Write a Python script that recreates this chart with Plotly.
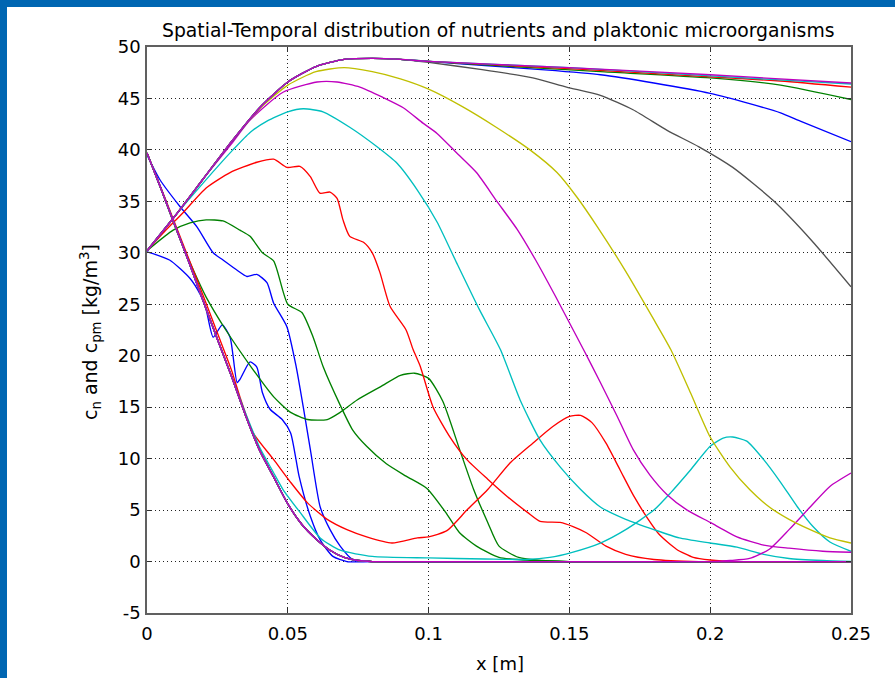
import plotly.graph_objects as go

# ---------------- data ----------------
# common rising part of the late "A" curves (start at 30 at x=0)
rise_x = [0, 0.01, 0.02, 0.03, 0.04, 0.05, 0.06, 0.07, 0.08, 0.09, 0.1]
rise_y = [30.2, 33.6, 37.2, 40.8, 44.1, 46.6, 48.1, 48.8, 48.9, 48.8, 48.6]

# common falling part of the late "B" curves (start at ~40 at x=0)
fall_x = [0, 0.005, 0.01, 0.015, 0.02, 0.025, 0.03, 0.035, 0.04, 0.045, 0.05,
          0.055, 0.06, 0.065, 0.07, 0.075, 0.08, 0.25]
fall_y = [39.7, 36.2, 32.6, 29.0, 25.3, 21.6, 18.0, 14.2, 10.8, 8.2, 5.6,
          3.6, 2.2, 1.1, 0.4, 0.1, 0.0, 0.0]

# time 1 (blue)
blue1_a_x = [0, 0.008, 0.0153, 0.019, 0.021, 0.0235, 0.0267, 0.0295, 0.032, 0.033,
             0.0366, 0.039, 0.041, 0.0437, 0.048, 0.051, 0.054, 0.058, 0.0615,
             0.066, 0.071, 0.08, 0.25]
blue1_a_y = [30.1, 29.3, 27.5, 25.9, 24.5, 21.8, 23.0, 21.8, 17.4, 17.7,
             19.4, 18.9, 16.4, 14.8, 13.8, 12.5, 8.3, 4.4, 2.1,
             0.5, 0.0, 0.0, 0.0]
blue1_b_x = [0, 0.0046, 0.0117, 0.0178, 0.0235, 0.027, 0.032, 0.0355, 0.039, 0.0426,
             0.045, 0.0497, 0.053, 0.0555, 0.058, 0.0615, 0.065, 0.0686, 0.073, 0.08, 0.25]
blue1_b_y = [39.5, 37.1, 34.5, 32.5, 30.0, 29.3, 28.3, 27.7, 27.9, 27.1,
             25.1, 22.8, 18.9, 15.0, 10.9, 5.3, 3.1, 1.5, 0.2, 0.0, 0.0]

# time 2 (green)
green1_a_x = [0, 0.0093, 0.0153, 0.021, 0.027, 0.033, 0.0366, 0.041, 0.045, 0.05,
              0.055, 0.059, 0.0626, 0.0686, 0.073, 0.078, 0.085, 0.092, 0.0994,
              0.106, 0.111, 0.117, 0.125, 0.137, 0.15, 0.25]
green1_a_y = [30.2, 32.2, 32.9, 33.2, 33.1, 32.2, 31.6, 30.0, 29.2, 25.0,
              24.2, 21.8, 18.9, 15.2, 12.8, 11.2, 9.5, 8.3, 7.1,
              4.8, 2.8, 1.5, 0.4, 0.1, 0.0, 0.0]
green1_b_x = [0, 0.005, 0.01, 0.0165, 0.021, 0.028, 0.037, 0.045, 0.051, 0.057,
              0.064, 0.0686, 0.0746, 0.083, 0.09, 0.095, 0.1, 0.105, 0.111, 0.116,
              0.121, 0.125, 0.132, 0.14, 0.15, 0.25]
green1_b_y = [39.7, 36.2, 32.5, 28.3, 25.7, 22.5, 18.9, 16.0, 14.5, 13.8,
              13.8, 14.5, 15.7, 17.0, 18.1, 18.3, 17.8, 15.6, 10.9, 7.0,
              3.8, 1.5, 0.4, 0.1, 0.0, 0.0]

# time 3 (red)
red1_a_x = [0, 0.006, 0.0128, 0.021, 0.0295, 0.039, 0.045, 0.0497, 0.0543, 0.058,
            0.0614, 0.065, 0.0675, 0.0696, 0.072, 0.077, 0.08, 0.0827, 0.0863,
            0.092, 0.0945, 0.097, 0.1016, 0.1076, 0.1136, 0.121, 0.128, 0.135,
            0.1396, 0.1467, 0.1513, 0.156, 0.163, 0.17, 0.18, 0.196, 0.25]
red1_a_y = [30.2, 32.0, 33.9, 36.3, 37.8, 38.8, 39.1, 38.3, 38.4, 37.4,
            35.8, 35.9, 35.3, 33.2, 31.6, 31.0, 30.0, 28.1, 24.8,
            22.5, 20.6, 19.0, 15.0, 12.1, 9.9, 8.0, 6.3, 4.8,
            3.9, 3.8, 3.4, 2.8, 1.5, 0.7, 0.2, 0.0, 0.0]
red1_b_x = [0, 0.005, 0.01, 0.015, 0.02, 0.025, 0.03, 0.033, 0.0377, 0.045, 0.051,
            0.057, 0.064, 0.071, 0.078, 0.087, 0.096, 0.1, 0.1065, 0.1136, 0.121,
            0.129, 0.137, 0.144, 0.15, 0.154, 0.158, 0.163, 0.168, 0.173, 0.178,
            0.182, 0.188, 0.194, 0.2, 0.21, 0.25]
red1_b_y = [39.7, 36.3, 32.8, 29.3, 25.8, 22.2, 18.6, 16.0, 12.5, 9.9, 7.7,
            5.7, 4.1, 3.1, 2.4, 1.8, 2.3, 2.4, 3.0, 5.0, 7.0,
            9.6, 11.5, 13.1, 14.1, 14.2, 13.5, 11.5, 8.9, 6.3, 4.1,
            2.6, 1.2, 0.4, 0.15, 0.0, 0.0]

# time 4 (cyan)
cyan1_a_x = [0, 0.01, 0.02, 0.0305, 0.0366, 0.0426, 0.05, 0.0555, 0.0625, 0.072,
             0.0817, 0.0888, 0.096, 0.103, 0.11, 0.118, 0.1255, 0.1325, 0.1396,
             0.1467, 0.154, 0.161, 0.17, 0.18, 0.189, 0.2, 0.2095, 0.219, 0.228,
             0.24, 0.25]
cyan1_a_y = [30.2, 33.6, 36.8, 40.0, 41.7, 42.8, 43.7, 44.0, 43.7, 42.2,
             40.3, 38.7, 36.1, 33.0, 29.0, 24.5, 20.6, 15.7, 11.8,
             9.2, 7.0, 5.3, 4.1, 3.1, 2.3, 1.8, 1.4, 0.7, 0.3,
             0.1, 0.0]
cyan1_b_x = [0, 0.005, 0.01, 0.015, 0.02, 0.025, 0.03, 0.035, 0.04, 0.045, 0.0483,
             0.0543, 0.0615, 0.0686, 0.08, 0.1, 0.12, 0.135, 0.143, 0.151, 0.161,
             0.17, 0.18, 0.186, 0.193, 0.2, 0.2046, 0.208, 0.213, 0.219, 0.225,
             0.231, 0.2365, 0.2425, 0.25]
cyan1_b_y = [39.7, 36.2, 32.6, 29.0, 25.3, 21.6, 18.0, 14.4, 11.1, 8.6, 7.0,
             4.8, 2.3, 1.1, 0.5, 0.35, 0.25, 0.2, 0.4, 0.9, 1.8,
             3.1, 5.0, 6.7, 8.9, 11.2, 12.0, 12.1, 11.7, 9.9, 7.7,
             5.3, 3.4, 1.9, 1.0]

# time 5 (magenta)
mag1_a_x = [0, 0.01, 0.02, 0.03, 0.0366, 0.0483, 0.0604, 0.0675, 0.0756, 0.0838,
            0.091, 0.098, 0.103, 0.11, 0.117, 0.124, 0.1314, 0.138, 0.145, 0.155,
            0.161, 0.167, 0.1726, 0.1786, 0.1847, 0.1918, 0.2, 0.2095, 0.219,
            0.228, 0.24, 0.25]
mag1_a_y = [30.2, 33.6, 37.2, 40.6, 42.9, 45.6, 46.6, 46.6, 46.1, 45.1,
            44.1, 42.6, 41.6, 39.7, 37.8, 35.1, 32.3, 29.3, 25.8, 20.6,
            17.4, 14.1, 10.9, 8.4, 6.5, 5.0, 3.8, 2.4, 1.6,
            1.3, 1.0, 0.9]
mag1_b_tail_x = [0.2, 0.207, 0.214, 0.221, 0.228, 0.2355, 0.2425, 0.25]
mag1_b_tail_y = [0.0, 0.1, 0.3, 1.2, 3.1, 5.3, 7.3, 8.6]

# time 6 (yellow)
yel_a_x = [0, 0.01, 0.02, 0.03, 0.04, 0.05, 0.06, 0.07, 0.08, 0.09, 0.1, 0.112,
           0.124, 0.136, 0.1456, 0.1527, 0.16, 0.17, 0.18, 0.186, 0.193, 0.2,
           0.207, 0.214, 0.221, 0.228, 0.2355, 0.2425, 0.25]
yel_a_y = [30.2, 33.6, 37.2, 40.8, 44.0, 46.3, 47.6, 48.0, 47.6, 46.9, 45.9, 44.2,
           42.2, 40.0, 37.8, 35.4, 32.5, 28.2, 23.5, 20.6, 16.4, 12.1,
           9.2, 7.0, 5.3, 4.1, 3.1, 2.3, 1.8]

# later times: tails of the A curves after the common rise
gray_tail_x = [0.1, 0.119, 0.137, 0.149, 0.161, 0.1726, 0.1847, 0.196, 0.208,
               0.2223, 0.236, 0.25]
gray_tail_y = [48.5, 47.8, 47.0, 46.1, 45.3, 43.9, 41.9, 40.3, 38.3,
               35.1, 31.2, 26.7]
blue2_tail_x = [0.12, 0.14, 0.161, 0.18, 0.2, 0.214, 0.225, 0.232, 0.25]
blue2_tail_y = [48.2, 47.8, 47.3, 46.5, 45.5, 44.5, 43.6, 42.8, 40.8]
green2_tail_x = [0.13, 0.161, 0.2, 0.225, 0.25]
green2_tail_y = [48.1, 47.6, 47.0, 46.3, 44.9]
red2_tail_x = [0.15, 0.2, 0.225, 0.25]
red2_tail_y = [47.9, 47.1, 46.7, 46.1]
cyan2_tail_x = [0.15, 0.2, 0.25]
cyan2_tail_y = [48.0, 47.2, 46.4]
mag2_tail_x = [0.15, 0.2, 0.25]
mag2_tail_y = [48.0, 47.3, 46.5]

x_ticks = [0, 0.05, 0.1, 0.15, 0.2, 0.25]
x_ticktext = ["0", "0.05", "0.1", "0.15", "0.2", "0.25"]
y_ticks = [-5, 0, 5, 10, 15, 20, 25, 30, 35, 40, 45, 50]
y_ticktext = ["-5", "0", "5", "10", "15", "20", "25", "30", "35", "40", "45", "50"]

# ---------------- colours ----------------
C_B = "#0000ff"
C_G = "#008000"
C_R = "#ff0000"
C_C = "#00bfbf"
C_M = "#bf00bf"
C_Y = "#bfbf00"
C_K = "#505050"

curves = [
    (blue1_a_x, blue1_a_y, C_B),
    (blue1_b_x, blue1_b_y, C_B),
    (green1_a_x, green1_a_y, C_G),
    (green1_b_x, green1_b_y, C_G),
    (red1_a_x, red1_a_y, C_R),
    (red1_b_x, red1_b_y, C_R),
    (cyan1_a_x, cyan1_a_y, C_C),
    (cyan1_b_x, cyan1_b_y, C_C),
    (mag1_a_x, mag1_a_y, C_M),
    (fall_x[:-1] + mag1_b_tail_x, fall_y[:-1] + mag1_b_tail_y, C_M),
    (yel_a_x, yel_a_y, C_Y),
    (fall_x, fall_y, C_Y),
    (rise_x[:10] + gray_tail_x, rise_y[:10] + gray_tail_y, C_K),
    (fall_x, fall_y, C_K),
    (rise_x + blue2_tail_x, rise_y + blue2_tail_y, C_B),
    (fall_x, fall_y, C_B),
    (rise_x + green2_tail_x, rise_y + green2_tail_y, C_G),
    (fall_x, fall_y, C_G),
    (rise_x + red2_tail_x, rise_y + red2_tail_y, C_R),
    (fall_x, fall_y, C_R),
    (rise_x + cyan2_tail_x, rise_y + cyan2_tail_y, C_C),
    (fall_x, fall_y, C_C),
    (rise_x + mag2_tail_x, rise_y + mag2_tail_y, C_M),
    (fall_x, fall_y, C_M),
]

fig = go.Figure()
for xs, ys, col in curves:
    fig.add_trace(go.Scatter(x=xs, y=ys, mode="lines",
                             line=dict(color=col, width=1.35, shape="spline", smoothing=0.6),
                             hoverinfo="skip"))

FONT = "DejaVu Sans"
axis_common = dict(
    showgrid=True, gridcolor="#222222", griddash="1px,3px", gridwidth=1,
    showline=True, linecolor="#606060", linewidth=1.5, mirror="ticks",
    ticks="inside", ticklen=5, tickcolor="#303030", zeroline=False,
    tickfont=dict(family=FONT, size=18, color="black"),
)
fig.update_xaxes(range=[0, 0.25], tickvals=x_ticks, ticktext=x_ticktext,
                 ticklabelstandoff=4, **axis_common)
fig.update_yaxes(range=[-5, 50], tickvals=y_ticks, ticktext=y_ticktext,
                 ticklabelstandoff=1, **axis_common)

fig.update_layout(
    width=895, height=678,
    margin=dict(l=147, r=44, t=47, b=65),
    paper_bgcolor="white", plot_bgcolor="white",
    showlegend=False,
    font=dict(family=FONT, color="black"),
    shapes=[
        dict(type="rect", xref="paper", yref="paper", x0=-0.25, x1=1.1,
             y0=(613 - 7) / 566, y1=1.2, fillcolor="#0066b2", line=dict(width=0), layer="above"),
        dict(type="rect", xref="paper", yref="paper", x0=-0.25, x1=(7 - 147) / 704,
             y0=-0.2, y1=1.2, fillcolor="#0066b2", line=dict(width=0), layer="above"),
    ],
    annotations=[
        dict(text="Spatial-Temporal distribution of nutrients and plaktonic microorganisms",
             xref="paper", yref="paper", x=0.498, y=(613 - 30) / 566,
             xanchor="center", yanchor="middle", showarrow=False,
             font=dict(family=FONT, size=18.8, color="black")),
        dict(text="x [m]", xref="paper", yref="paper", x=(500 - 147) / 704,
             y=(613 - 663) / 566, xanchor="center", yanchor="middle", showarrow=False,
             font=dict(family=FONT, size=18, color="black")),
        dict(text="c<sub>n</sub> and c<sub>pm</sub> [kg/m<sup>3</sup>]",
             xref="paper", yref="paper", x=(90 - 147) / 704, y=(613 - 332) / 566,
             xanchor="center", yanchor="middle", textangle=-90, showarrow=False,
             font=dict(family=FONT, size=19, color="black")),
    ],
)

fig.write_html("out.html", config={"displayModeBar": False},
               post_script="document.body.style.margin='0';document.body.style.overflow='hidden';")
